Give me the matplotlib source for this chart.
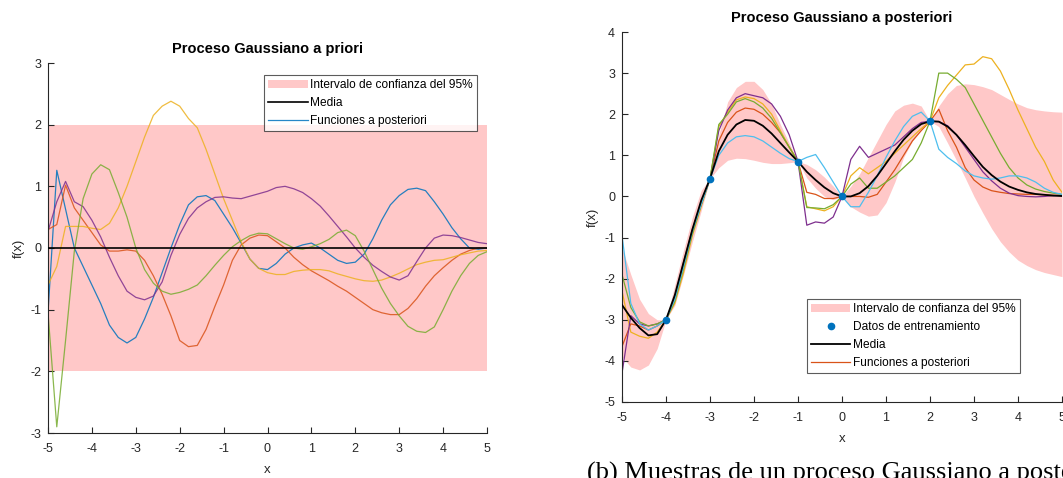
import numpy as np
import matplotlib
matplotlib.use("Agg")
import matplotlib.pyplot as plt

plt.rcParams['font.family'] = ['Liberation Sans', 'DejaVu Sans']
plt.rcParams['axes.unicode_minus'] = False

# ---------------- data ----------------
x = [-5.0, -4.8, -4.6, -4.4, -4.2, -4.0, -3.8, -3.6, -3.4, -3.2, -3.0, -2.8, -2.6,
     -2.4, -2.2, -2.0, -1.8, -1.6, -1.4, -1.2, -1.0, -0.8, -0.6, -0.4, -0.2, 0.0,
     0.2, 0.4, 0.6, 0.8, 1.0, 1.2, 1.4, 1.6, 1.8, 2.0, 2.2, 2.4, 2.6, 2.8, 3.0,
     3.2, 3.4, 3.6, 3.8, 4.0, 4.2, 4.4, 4.6, 4.8, 5.0]

# prior (left)
prior_mean = [0.0] * len(x)
prior_upper = [2.0] * len(x)
prior_lower = [-2.0] * len(x)
prior_blue = [-1.05, 1.26, 0.63, 0.0, -0.3, -0.6, -0.9, -1.25, -1.45, -1.54, -1.45, -1.15, -0.8,
              -0.4, 0.0, 0.38, 0.7, 0.83, 0.85, 0.77, 0.55, 0.33, 0.08, -0.18, -0.33, -0.35,
              -0.25, -0.1, 0.0, 0.05, 0.08, 0.0, -0.1, -0.2, -0.25, -0.23, -0.1, 0.15, 0.45, 0.7, 0.85,
              0.95, 0.97, 0.93, 0.75, 0.55, 0.33, 0.15, 0.0, -0.02, 0.0]
prior_orange = [0.3, 0.38, 1.02, 0.65, 0.45, 0.25, 0.05, -0.05, -0.05, -0.03, -0.05, -0.2, -0.45,
                -0.75, -1.1, -1.5, -1.6, -1.58, -1.32, -0.95, -0.6, -0.2, 0.05, 0.16, 0.21, 0.2,
                0.1, 0.0, -0.15, -0.27, -0.37, -0.45, -0.53, -0.62, -0.7, -0.8, -0.9, -1.0, -1.05, -1.08, -1.08,
                -0.98, -0.82, -0.62, -0.45, -0.32, -0.2, -0.1, -0.04, 0.0, 0.0]
prior_yellow = [-0.6, -0.3, 0.35, 0.35, 0.35, 0.32, 0.3, 0.4, 0.65, 1.0, 1.4, 1.8, 2.15,
                2.3, 2.38, 2.3, 2.1, 1.95, 1.6, 1.2, 0.8, 0.45, 0.1, -0.18, -0.33, -0.4,
                -0.43, -0.43, -0.38, -0.36, -0.35, -0.35, -0.37, -0.42, -0.46, -0.5, -0.53, -0.54, -0.52, -0.47, -0.41,
                -0.34, -0.27, -0.23, -0.2, -0.19, -0.15, -0.11, -0.08, -0.05, -0.04]
prior_purple = [0.27, 0.75, 1.08, 0.75, 0.67, 0.45, 0.18, -0.15, -0.45, -0.7, -0.8, -0.84, -0.78,
                -0.55, -0.12, 0.22, 0.48, 0.65, 0.75, 0.82, 0.83, 0.81, 0.8, 0.84, 0.88, 0.92,
                0.98, 1.0, 0.96, 0.9, 0.8, 0.68, 0.52, 0.35, 0.18, 0.0, -0.15, -0.28, -0.38, -0.47, -0.52,
                -0.45, -0.22, 0.0, 0.16, 0.21, 0.2, 0.17, 0.13, 0.09, 0.07]
prior_green = [-1.05, -2.9, -1.5, -0.05, 0.8, 1.2, 1.35, 1.27, 0.9, 0.5, 0.0, -0.35, -0.57,
               -0.7, -0.75, -0.72, -0.67, -0.6, -0.45, -0.28, -0.12, 0.02, 0.12, 0.2, 0.24, 0.23,
               0.15, 0.07, 0.0, -0.02, 0.02, 0.07, 0.14, 0.25, 0.29, 0.2, -0.05, -0.35, -0.65, -0.9, -1.1,
               -1.27, -1.35, -1.37, -1.28, -1.0, -0.7, -0.45, -0.25, -0.12, -0.06]

# posterior (right)
train_x = [-4, -3, -1, 0, 2]
train_y = [-3.0, 0.43, 0.85, 0.0, 1.83]
post_mean = [-2.64, -2.95, -3.2, -3.38, -3.35, -3.0, -2.4, -1.6, -0.8, -0.1, 0.43, 1.1, 1.5,
             1.75, 1.86, 1.84, 1.72, 1.53, 1.3, 1.07, 0.85, 0.6, 0.4, 0.22, 0.08, 0.0,
             0.0, 0.08, 0.25, 0.5, 0.8, 1.1, 1.38, 1.6, 1.76, 1.83, 1.82, 1.7, 1.5, 1.25, 0.98,
             0.72, 0.52, 0.36, 0.24, 0.16, 0.1, 0.06, 0.04, 0.02, 0.01]
post_upper = [-1.25, -1.9, -2.5, -2.85, -3.0, -3.0, -2.15, -1.3, -0.5, 0.15, 0.43, 1.5, 2.3,
              2.65, 2.8, 2.8, 2.6, 2.25, 1.75, 1.3, 0.85, 0.78, 0.65, 0.47, 0.25, 0.0,
              0.25, 0.55, 0.95, 1.35, 1.75, 2.08, 2.22, 2.27, 2.2, 1.83, 2.2, 2.5, 2.7, 2.74, 2.72,
              2.67, 2.6, 2.48, 2.36, 2.25, 2.16, 2.11, 2.08, 2.06, 2.05]
post_lower = [-3.9, -4.15, -4.22, -4.1, -3.7, -3.0, -2.65, -1.9, -1.1, -0.35, 0.43, 0.7, 0.88,
              0.93, 0.92, 0.88, 0.83, 0.8, 0.8, 0.82, 0.85, 0.45, 0.2, 0.0, -0.08, 0.0,
              -0.25, -0.38, -0.48, -0.45, -0.15, 0.35, 0.95, 1.35, 1.62, 1.83, 1.7, 1.3, 0.88, 0.45, 0.0,
              -0.4, -0.78, -1.1, -1.35, -1.55, -1.68, -1.78, -1.85, -1.9, -1.95]
post_orange = [-3.65, -3.1, -3.15, -3.25, -3.15, -3.0, -2.45, -1.6, -0.8, -0.15, 0.43, 1.35, 1.8,
               2.05, 2.15, 2.12, 2.0, 1.8, 1.55, 1.2, 0.85, 0.1, 0.05, -0.05, -0.05, 0.0,
               0.0, 0.0, -0.02, 0.05, 0.35, 0.65, 1.0, 1.35, 1.6, 1.83, 2.12, 1.6, 1.2, 0.7, 0.4,
               0.23, 0.14, 0.1, 0.07, 0.06, 0.05, 0.05, 0.04, 0.03, 0.02]
post_yellow = [-2.3, -3.3, -3.4, -3.45, -3.3, -3.0, -2.6, -1.85, -0.95, -0.25, 0.43, 1.7, 2.05,
               2.35, 2.42, 2.38, 2.25, 2.0, 1.6, 1.2, 0.85, -0.25, -0.3, -0.35, -0.25, 0.0,
               0.5, 0.7, 0.55, 0.7, 0.85, 1.05, 1.25, 1.45, 1.65, 1.83, 2.4, 2.7, 2.95, 3.2, 3.22,
               3.4, 3.35, 3.05, 2.6, 2.1, 1.65, 1.2, 0.85, 0.4, 0.1]
post_purple = [-4.3, -2.9, -3.1, -3.15, -3.1, -3.0, -2.5, -1.7, -0.85, -0.2, 0.43, 1.6, 2.1,
               2.4, 2.5, 2.45, 2.4, 2.25, 1.95, 1.5, 0.85, -0.7, -0.62, -0.65, -0.5, 0.0,
               0.9, 1.22, 0.95, 1.05, 1.15, 1.25, 1.45, 1.65, 1.8, 1.83, 1.82, 1.72, 1.5, 1.2, 0.9,
               0.6, 0.38, 0.2, 0.08, 0.02, 0.0, -0.01, 0.0, 0.02, 0.03]
post_green = [-1.9, -2.7, -3.05, -3.15, -3.1, -3.0, -2.55, -1.75, -0.9, -0.2, 0.43, 1.75, 2.0,
              2.3, 2.38, 2.3, 2.15, 1.9, 1.55, 1.2, 0.85, -0.27, -0.28, -0.3, -0.2, 0.0,
              0.3, 0.45, 0.2, 0.2, 0.35, 0.5, 0.7, 0.9, 1.3, 1.83, 3.0, 3.0, 2.85, 2.65, 2.25,
              1.85, 1.45, 1.05, 0.7, 0.45, 0.28, 0.18, 0.12, 0.08, 0.05]
post_cyan = [-0.95, -2.6, -3.1, -3.25, -3.15, -3.0, -2.5, -1.7, -0.85, -0.2, 0.43, 1.0, 1.3,
             1.45, 1.48, 1.45, 1.35, 1.2, 1.05, 0.92, 0.85, 0.95, 1.02, 0.7, 0.35, 0.0,
             -0.25, -0.25, 0.1, 0.5, 0.95, 1.35, 1.7, 1.95, 2.05, 1.83, 1.15, 0.95, 0.8, 0.62, 0.5,
             0.45, 0.42, 0.45, 0.5, 0.5, 0.45, 0.35, 0.2, 0.1, 0.05]

# ---------------- style ----------------
PINK = '#FFC8C8'
C_BLUE = '#0072BD'
C_ORANGE = '#D95319'
C_YELLOW = '#EDB120'
C_PURPLE = '#7E2F8E'
C_GREEN = '#77AC30'
C_CYAN = '#4DBEEE'
AX_COL = '#262626'

fig = plt.figure(figsize=(10.63, 4.78), dpi=100)

W, H = 1063, 478
def px_axes(l, t, r, b):
    return fig.add_axes([l / W, 1 - b / H, (r - l) / W, (b - t) / H])

def style(ax, ylim, yticks):
    ax.set_xlim(-5, 5)
    ax.set_ylim(*ylim)
    ax.set_xticks(range(-5, 6))
    ax.set_yticks(yticks)
    for s in ['top', 'right']:
        ax.spines[s].set_visible(False)
    for s in ['left', 'bottom']:
        ax.spines[s].set_color(AX_COL)
        ax.spines[s].set_linewidth(0.8)
    ax.tick_params(direction='in', length=4, width=0.8, colors=AX_COL, labelsize=9)
    ax.tick_params(axis='x', pad=7)
    ax.tick_params(axis='y', pad=5)
    ax.set_xlabel('x', fontsize=9.5, color=AX_COL, labelpad=7)
    ax.set_ylabel('f(x)', fontsize=9.5, color=AX_COL, labelpad=4)

lw_s = 0.9
leg_kw = dict(fontsize=8.6, frameon=True, fancybox=False, edgecolor='#333333',
              handlelength=3.3, handletextpad=0.2, labelspacing=0.5,
              borderpad=0.35, borderaxespad=0)

# ---------- left: prior ----------
ax1 = px_axes(48, 63, 487, 433)
ax1.fill_between(x, prior_lower, prior_upper, color=PINK, lw=0,
                 label='Intervalo de confianza del 95%')
ax1.plot(x, prior_mean, color='black', lw=1.2, label='Media', zorder=3)
samples_l = [(prior_blue, C_BLUE), (prior_orange, C_ORANGE), (prior_yellow, C_YELLOW),
             (prior_purple, C_PURPLE), (prior_green, C_GREEN)]
for i, (ys, c) in enumerate(samples_l):
    ax1.plot(x, ys, color=c, lw=lw_s, label='Funciones a posteriori' if i == 0 else None,
             alpha=0.85)
style(ax1, (-3, 3), range(-3, 4))
ax1.set_title('Proceso Gaussiano a priori', fontsize=10.5, fontweight='bold', pad=7)
l1 = ax1.legend(loc='upper right', bbox_to_anchor=(0.977, 0.968), **leg_kw)
l1.get_frame().set_linewidth(0.8)

# ---------- right: posterior ----------
ax2 = px_axes(622, 32, 1062, 402)
ax2.fill_between(x, post_lower, post_upper, color=PINK, lw=0,
                 label='Intervalo de confianza del 95%')
samples_r = [(post_orange, C_ORANGE), (post_yellow, C_YELLOW), (post_purple, C_PURPLE),
             (post_green, C_GREEN), (post_cyan, C_CYAN)]
for i, (ys, c) in enumerate(samples_r):
    ax2.plot(x, ys, color=c, lw=lw_s, label='Funciones a posteriori' if i == 0 else None)
ax2.plot(x, post_mean, color='black', lw=1.3, label='Media', zorder=4)
ax2.plot(train_x, train_y, 'o', color=C_BLUE, ms=4.5, label='Datos de entrenamiento', zorder=5)
style(ax2, (-5, 4), range(-5, 5))
ax2.set_title('Proceso Gaussiano a posteriori', fontsize=10.5, fontweight='bold', pad=7)
h, lab = ax2.get_legend_handles_labels()
order = ['Intervalo de confianza del 95%', 'Datos de entrenamiento', 'Media', 'Funciones a posteriori']
hh = [h[lab.index(o)] for o in order]
l2 = ax2.legend(hh, order, loc='lower left', bbox_to_anchor=(0.42, 0.078), **leg_kw)
l2.get_frame().set_linewidth(0.8)

# caption (cut at image bottom, as in the reference)
fig.text(587 / W, -2 / H, '(b) Muestras de un proceso Gaussiano a posteriori',
         fontsize=19, family=['Liberation Serif', 'DejaVu Serif'], va='baseline', ha='left')

fig.savefig('out.png', dpi=100)
